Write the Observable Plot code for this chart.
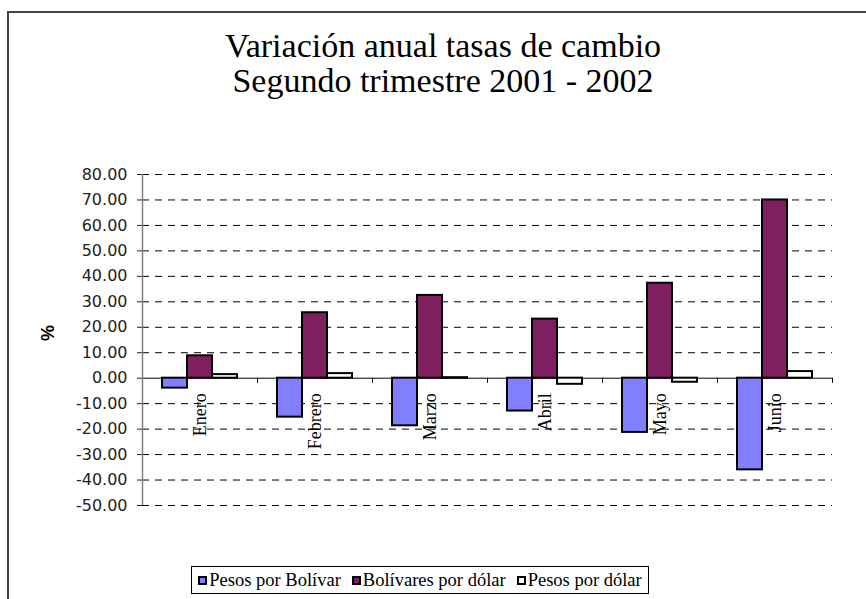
<!DOCTYPE html>
<html>
<head>
<meta charset="utf-8">
<script src="https://cdn.jsdelivr.net/npm/d3@7"></script>
<script src="https://cdn.jsdelivr.net/npm/@observablehq/plot@0.6"></script>
<style>
html, body { margin: 0; padding: 0; background: #fff; }
#chart { position: relative; width: 866px; height: 599px; overflow: hidden; background: #fff; }
#chart svg { position: absolute; left: 0; top: 0; }
.border { position: absolute; left: 7px; top: 11px; width: 1000px; height: 1000px;
  border-left: 2px solid #444; border-top: 2px solid #444; }
.title { position: absolute; left: 143px; width: 600px; top: 28px; text-align: center;
  font-family: "Liberation Serif", serif; font-size: 34px; line-height: 35px; color: #000; }
.ylabel { position: absolute; left: 48px; top: 333px; transform: translate(-50%, -50%) rotate(-90deg);
  font-family: "Liberation Sans", sans-serif; font-weight: bold; font-size: 18px; color: #000; white-space: nowrap; }
.legend { position: absolute; left: 191px; top: 566px; width: 456px; height: 26px; border: 1px solid #000;
  display: flex; align-items: center; justify-content: center; gap: 11px;
  font-family: "Liberation Serif", serif; font-size: 18.5px; color: #000; background: #fff; }
.item { display: flex; align-items: center; gap: 2px; white-space: nowrap; }
.sw { width: 5px; height: 5px; border: 2px solid #000; }
</style>
</head>
<body>
<div id="chart">
  <div class="border"></div>
  <div class="title">Variación anual tasas de cambio<br>Segundo trimestre 2001 - 2002</div>
  <div class="ylabel">%</div>
  <div class="legend" id="legend"></div>
</div>
<script>
const months = ["Enero", "Febrero", "Marzo", "Abril", "Mayo", "Junio"];
const seriesNames = ["Pesos por Bolívar", "Bolívares por dólar", "Pesos por dólar"];
const pesosPorBolivar = [-3.9, -15.3, -18.7, -12.9, -21.3, -36.0];
const bolivaresPorDolar = [8.8, 25.7, 32.5, 23.2, 37.3, 70.0];
const pesosPorDolar = [1.4, 1.8, 0.2, -2.4, -1.6, 2.6];
const seriesColors = ["#8080FF", "#7F1F5F", "#FFFFFF"];
const yTicks = [-50, -40, -30, -20, -10, 0, 10, 20, 30, 40, 50, 60, 70, 80];
const categoryBoundaries = [1, 2, 3, 4, 5, 6];

const seriesValues = [pesosPorBolivar, bolivaresPorDolar, pesosPorDolar];
const rows = months.flatMap((m, i) => seriesNames.map((s, j) => ({month: m, series: s, value: seriesValues[j][i]})));

const W = 866, H = 599, ML = 142, MR = 34, MT = 174, MB = 94;
const yDomain = [-50, 80];
const serifFont = "'Liberation Serif', serif";

const frame = Plot.plot({
  width: W, height: H, marginLeft: ML, marginRight: MR, marginTop: MT, marginBottom: MB,
  style: {background: "transparent", fontFamily: "'DejaVu Sans', sans-serif", fontSize: "16px", color: "#222"},
  x: {domain: [0, months.length], axis: null},
  y: {domain: yDomain, ticks: yTicks, tickFormat: d => d.toFixed(2), tickSize: 5, tickPadding: 10, label: null},
  marks: [
    Plot.ruleY(yTicks.filter(d => d !== 0), {stroke: "#000", strokeDasharray: "7,6"}),
    Plot.ruleY([0], {stroke: "#000"}),
    Plot.ruleX(categoryBoundaries, {y1: 0, y2: -2, stroke: "#000"}),
    Plot.ruleX([0], {y1: yDomain[0], y2: yDomain[1], stroke: "#808080", strokeWidth: 1.5})
  ]
});

const bars = Plot.plot({
  width: W, height: H, marginLeft: ML, marginRight: MR, marginTop: MT, marginBottom: MB,
  style: {background: "transparent", fontFamily: serifFont, fontSize: "18px", color: "#000"},
  fx: {domain: months, padding: 0, axis: null},
  x: {domain: seriesNames, paddingInner: 0, paddingOuter: 0.73, axis: null},
  y: {domain: yDomain, axis: null},
  color: {domain: seriesNames, range: seriesColors},
  marks: [
    Plot.barY(rows, {fx: "month", x: "series", y1: 0, y2: "value", fill: "series", stroke: "#000", strokeWidth: 2}),
    Plot.text(months, {fx: d => d, y: 0, text: d => d, rotate: -90, textAnchor: "end", dy: 15, fontSize: 18, fontFamily: serifFont, fill: "#000"})
  ]
});

const chart = document.getElementById("chart");
chart.insertBefore(frame, document.getElementById("legend"));
chart.insertBefore(bars, document.getElementById("legend"));

const legend = document.getElementById("legend");
seriesNames.forEach((s, j) => {
  const item = document.createElement("div");
  item.className = "item";
  const sw = document.createElement("div");
  sw.className = "sw";
  sw.style.background = seriesColors[j];
  const label = document.createElement("span");
  label.textContent = s;
  item.appendChild(sw);
  item.appendChild(label);
  legend.appendChild(item);
});
</script>
</body>
</html>
